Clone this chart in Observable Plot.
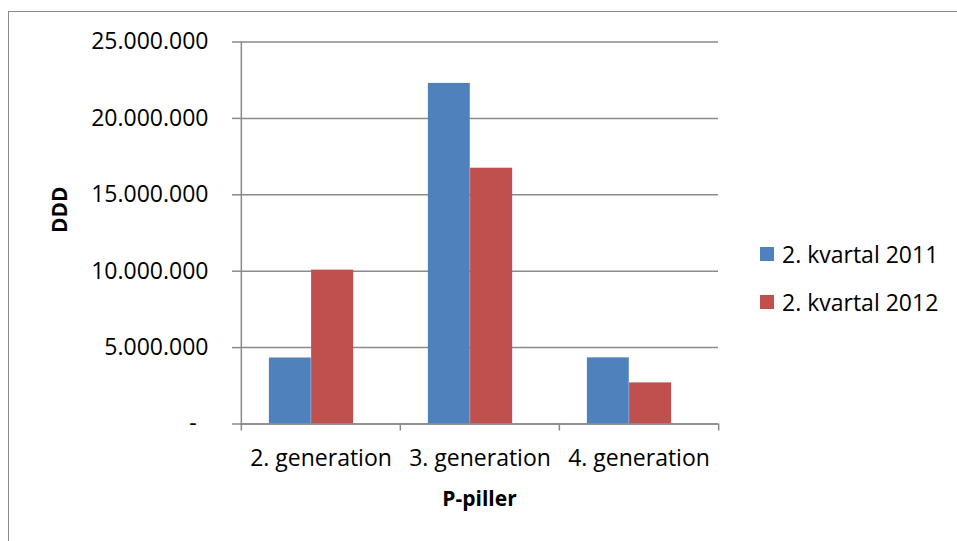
<!DOCTYPE html>
<html><head><meta charset="utf-8">
<script src="https://cdn.jsdelivr.net/npm/d3@7"></script>
<script src="https://cdn.jsdelivr.net/npm/@observablehq/plot@0.6"></script>
<style>
body{margin:0;background:#fff;}
#wrap{position:relative;width:957px;height:541px;overflow:hidden;font-family:"Open Sans",sans-serif;}
#border{position:absolute;left:8px;top:11px;width:1200px;height:800px;border-left:1.5px solid #8a8a8a;border-top:1.5px solid #8a8a8a;}
#chart{position:absolute;left:0;top:0;}
.leg{position:absolute;left:760px;display:flex;align-items:center;font-size:23px;color:#000;white-space:nowrap;}
.leg span.sw{display:inline-block;width:14px;height:14px;margin-right:8px;}
</style></head>
<body>
<div id="wrap"><div id="border"></div><div id="chart"></div><div id="legend"></div></div>
<script>
const categories = ["2. generation", "3. generation", "4. generation"];
const series = ["2. kvartal 2011", "2. kvartal 2012"];
const values2011 = [4320000, 22290000, 4330000];
const values2012 = [10070000, 16740000, 2690000];
const yTicks = [0, 5000000, 10000000, 15000000, 20000000, 25000000];
const colors = ["#4F81BD", "#C0504D"];

const W = 957, H = 541, mL = 240, mR = 239, mT = 41.5, mB = 117.5;
const bw = (W - mL - mR) / categories.length;
const plotH = H - mT - mB;
const grey = "#8a8a8a";

const rows = [];
categories.forEach((c, i) => {
  rows.push({cat: c, series: series[0], value: values2011[i]});
  rows.push({cat: c, series: series[1], value: values2012[i]});
});

const loc = d3.formatLocale({thousands: ".", decimal: ",", grouping: [3], currency: ["", ""]});
const fmt = loc.format(",d");
const tf = d => d === 0 ? "-\u00a0\u00a0" : fmt(d);

// bar placement within each category band (fractions of the band)
const b0 = 0.175, b1 = 0.44, b2 = 0.706;

const chart = Plot.plot({
  width: W, height: H,
  marginLeft: mL, marginRight: mR, marginTop: mT, marginBottom: mB,
  style: {fontFamily: '"Open Sans", sans-serif', background: "transparent", color: "#000"},
  x: {domain: categories, padding: 0},
  y: {domain: [0, 25000000]},
  color: {domain: series, range: colors},
  marks: [
    Plot.gridY(yTicks, {stroke: grey, strokeOpacity: 1, strokeWidth: 1.5}),
    Plot.barY(rows.filter(d => d.series === series[0]), {x: "cat", y: "value", fill: "series", insetLeft: bw * b0, insetRight: bw * (1 - b1)}),
    Plot.barY(rows.filter(d => d.series === series[1]), {x: "cat", y: "value", fill: "series", insetLeft: bw * b1, insetRight: bw * (1 - b2)}),
    Plot.ruleY([0], {stroke: grey, strokeWidth: 1.5}),
    Plot.ruleX([categories[0]], {x: d => d, dx: -bw / 2, stroke: grey, strokeWidth: 1.5, insetBottom: -7}),
    Plot.ruleX(categories.slice(1), {x: d => d, dx: -bw / 2, stroke: grey, strokeWidth: 1.5, insetTop: plotH, insetBottom: -7}),
    Plot.ruleX([categories[categories.length - 1]], {x: d => d, dx: bw / 2, stroke: grey, strokeWidth: 1.5, insetTop: plotH, insetBottom: -7}),
    Plot.axisY(yTicks, {tickFormat: tf, tickSize: 8, tickPadding: 24, fontSize: 23, stroke: grey, strokeWidth: 1.5, label: null, color: "#000"}),
    Plot.axisX({tickSize: 0, tickPadding: 26, fontSize: 23, label: null}),
    Plot.text(["DDD"], {frameAnchor: "left", dx: -180, rotate: -90, fontWeight: "bold", fontSize: 21, fill: "#000"}),
    Plot.text(["P-piller"], {frameAnchor: "bottom", dy: 82, fontWeight: "bold", fontSize: 21, fill: "#000"})
  ]
});
document.getElementById("chart").appendChild(chart);

const leg = document.getElementById("legend");
const legTops = [255, 303];
series.forEach((s, i) => {
  const d = document.createElement("div");
  d.className = "leg";
  d.style.top = (legTops[i] - 17) + "px";
  d.innerHTML = `<span class="sw" style="background:${colors[i]}"></span><span>${s}</span>`;
  leg.appendChild(d);
});
</script>
</body></html>
